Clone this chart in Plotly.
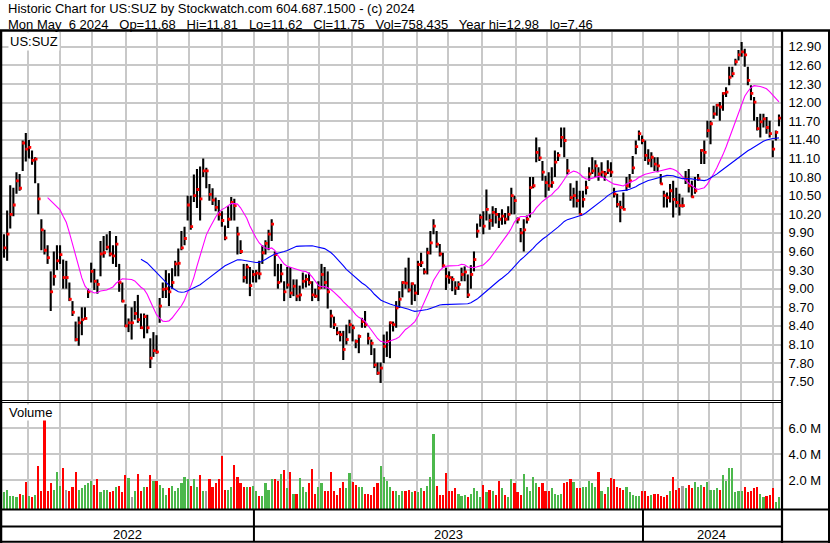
import plotly.graph_objects as go
import pandas as pd

# ---------------- data (2-trading-day bars, May 2022 - May 2024) ----------------
close = [9.66, 9.88, 10.20, 10.35, 10.74, 10.62, 11.35, 11.25, 11.28, 11.07,
         11.09, 10.45, 9.95, 9.62, 9.50, 8.95, 9.20, 9.45, 9.55, 9.18,
         9.18, 8.83, 8.62, 8.18, 8.45, 8.50, 8.52, 8.95, 9.28, 9.12,
         9.07, 9.56, 9.58, 9.67, 9.56, 9.53, 9.72, 9.10, 8.80, 8.40,
         8.45, 8.45, 8.60, 8.50, 8.37, 8.55, 8.37, 7.88, 8.00, 7.98,
         8.72, 8.99, 9.00, 8.95, 9.10, 9.40, 9.41, 9.66, 9.81, 10.35,
         10.00, 10.50, 10.60, 10.45, 10.90, 10.90, 10.52, 10.43, 10.31, 10.20,
         10.10, 9.82, 10.12, 10.39, 10.34, 9.88, 9.60, 9.18, 9.35, 9.05,
         9.23, 9.25, 9.24, 9.58, 9.73, 9.88, 10.04, 9.55, 9.10, 9.24,
         8.95, 9.06, 8.93, 9.04, 8.88, 8.90, 9.12, 9.15, 9.10, 8.90,
         8.88, 9.01, 9.23, 9.10, 8.95, 8.56, 8.42, 8.29, 8.26, 8.02,
         8.18, 8.42, 8.37, 8.15, 8.23, 8.47, 8.42, 8.20, 8.12, 7.77,
         7.64, 7.72, 8.07, 8.15, 8.45, 8.42, 8.69, 8.83, 9.10, 9.09,
         8.98, 9.08, 8.93, 9.39, 9.42, 9.27, 9.58, 9.74, 10.01, 9.72,
         9.56, 9.37, 9.20, 9.18, 9.15, 9.01, 9.07, 9.23, 9.27, 8.90,
         9.23, 9.47, 9.93, 10.15, 10.01, 10.28, 10.10, 10.23, 10.20, 10.12,
         10.17, 10.12, 10.20, 10.50, 10.42, 10.12, 9.90, 9.95, 10.12, 10.63,
         10.66, 11.20, 11.11, 10.88, 10.71, 10.66, 10.71, 11.04, 11.15, 11.44,
         11.39, 10.90, 10.47, 10.50, 10.42, 10.20, 10.44, 10.63, 10.85, 10.90,
         10.98, 10.85, 10.88, 10.85, 10.91, 10.88, 10.53, 10.36, 10.31, 10.28,
         10.66, 10.74, 10.95, 11.29, 11.50, 11.39, 11.15, 11.07, 11.12, 11.01,
         10.98, 10.69, 10.50, 10.47, 10.58, 10.44, 10.39, 10.34, 10.34, 10.77,
         10.66, 10.48, 10.58, 10.77, 11.23, 11.20, 11.55, 11.66, 11.82, 11.96,
         11.93, 12.15, 12.17, 12.41, 12.47, 12.66, 12.77, 12.82, 12.77, 12.36,
         12.15, 12.01, 11.58, 11.69, 11.74, 11.60, 11.50, 11.25, 11.52, 11.75]

high = [9.88, 10.26, 10.67, 10.63, 10.88, 10.85, 11.39, 11.51, 11.40, 11.23,
        11.12, 10.70, 10.12, 9.95, 9.70, 9.28, 9.60, 9.70, 9.70, 9.47,
        9.45, 9.10, 8.80, 8.47, 8.55, 8.70, 8.70, 9.00, 9.42, 9.32,
        9.15, 9.77, 9.85, 9.88, 9.93, 9.70, 9.85, 9.40, 9.10, 8.75,
        8.52, 8.70, 8.80, 8.90, 8.60, 8.60, 8.58, 8.20, 8.30, 8.25,
        8.85, 9.10, 9.30, 9.25, 9.33, 9.45, 9.65, 9.93, 10.00, 10.50,
        10.50, 10.84, 10.93, 10.97, 11.10, 10.95, 10.69, 10.62, 10.47, 10.43,
        10.25, 10.02, 10.33, 10.48, 10.45, 10.00, 9.78, 9.40, 9.40, 9.35,
        9.30, 9.30, 9.45, 9.70, 9.78, 9.95, 10.12, 9.60, 9.40, 9.40,
        9.12, 9.35, 9.35, 9.15, 9.15, 9.05, 9.26, 9.23, 9.26, 9.12,
        9.00, 9.12, 9.40, 9.35, 9.28, 8.66, 8.55, 8.38, 8.32, 8.32,
        8.42, 8.50, 8.42, 8.18, 8.26, 8.53, 8.64, 8.29, 8.18, 8.04,
        7.81, 7.81, 8.26, 8.31, 8.47, 8.47, 8.80, 8.96, 9.12, 9.34,
        9.50, 9.10, 9.07, 9.45, 9.58, 9.33, 9.66, 9.93, 10.12, 9.93,
        9.72, 9.58, 9.34, 9.28, 9.20, 9.12, 9.12, 9.34, 9.36, 9.23,
        9.38, 9.60, 10.05, 10.20, 10.25, 10.60, 10.20, 10.33, 10.30, 10.22,
        10.28, 10.22, 10.33, 10.63, 10.50, 10.15, 9.98, 10.12, 10.18, 10.80,
        10.80, 11.44, 11.28, 11.06, 10.82, 10.88, 10.96, 11.23, 11.20, 11.60,
        11.60, 11.09, 10.70, 10.63, 10.74, 10.58, 10.58, 10.74, 10.96, 11.12,
        11.07, 10.96, 11.04, 10.90, 11.07, 11.04, 10.63, 10.53, 10.42, 10.55,
        10.80, 10.85, 11.14, 11.39, 11.55, 11.47, 11.39, 11.25, 11.20, 11.12,
        11.12, 10.85, 10.58, 10.55, 10.69, 10.74, 10.63, 10.53, 10.47, 10.90,
        10.93, 10.74, 10.80, 10.85, 11.25, 11.39, 11.71, 11.71, 11.95, 11.98,
        12.01, 12.17, 12.25, 12.58, 12.58, 12.71, 12.85, 12.98, 12.87, 12.58,
        12.28, 12.09, 11.77, 11.82, 11.82, 11.77, 11.71, 11.39, 11.55, 11.81]

low = [9.50, 9.45, 9.97, 10.17, 10.53, 10.58, 10.90, 11.05, 11.10, 11.00,
       10.70, 10.20, 9.62, 9.55, 9.40, 8.64, 9.05, 9.30, 9.40, 9.00,
       9.00, 8.80, 8.56, 8.15, 8.08, 8.25, 8.50, 8.85, 9.10, 8.98,
       8.92, 9.20, 9.50, 9.62, 9.52, 9.40, 9.35, 8.95, 8.78, 8.38,
       8.30, 8.18, 8.50, 8.45, 8.35, 8.20, 8.28, 7.72, 7.90, 7.95,
       8.45, 8.85, 8.85, 8.72, 9.00, 9.20, 9.20, 9.62, 9.70, 10.10,
       9.95, 10.40, 10.30, 10.10, 10.80, 10.62, 10.42, 10.35, 10.25, 10.10,
       10.00, 9.78, 9.98, 10.10, 10.10, 9.55, 9.56, 9.10, 9.08, 8.88,
       9.10, 9.10, 9.15, 9.40, 9.55, 9.62, 9.77, 9.20, 9.00, 9.10,
       8.80, 9.00, 8.85, 8.88, 8.80, 8.80, 9.00, 9.02, 9.05, 8.80,
       8.85, 8.80, 9.00, 9.00, 8.68, 8.37, 8.35, 8.25, 8.15, 7.85,
       8.10, 8.28, 8.15, 8.04, 7.96, 8.37, 8.37, 8.10, 7.93, 7.72,
       7.61, 7.48, 7.80, 7.90, 7.88, 8.31, 8.37, 8.69, 8.86, 9.00,
       8.94, 8.74, 8.80, 8.90, 9.35, 9.23, 9.23, 9.55, 9.88, 9.66,
       9.52, 9.34, 8.98, 9.08, 8.96, 8.90, 8.98, 9.12, 9.12, 8.85,
       9.00, 9.28, 9.82, 10.00, 9.88, 10.10, 9.95, 10.00, 10.05, 9.98,
       10.03, 10.04, 10.10, 10.20, 10.20, 10.05, 9.75, 9.60, 10.05, 10.15,
       10.62, 11.04, 11.06, 10.74, 10.47, 10.58, 10.63, 10.80, 11.06, 11.28,
       11.12, 10.84, 10.42, 10.31, 10.31, 10.20, 10.31, 10.52, 10.74, 10.85,
       10.80, 10.74, 10.80, 10.74, 10.85, 10.80, 10.47, 10.31, 10.07, 10.28,
       10.58, 10.63, 10.85, 11.17, 11.39, 11.33, 11.06, 11.00, 10.96, 10.90,
       10.88, 10.69, 10.31, 10.31, 10.39, 10.15, 10.31, 10.18, 10.31, 10.69,
       10.55, 10.47, 10.53, 10.74, 11.01, 11.01, 11.44, 11.33, 11.74, 11.79,
       11.71, 11.87, 12.09, 12.28, 12.41, 12.60, 12.68, 12.74, 12.58, 12.28,
       12.04, 11.71, 11.55, 11.44, 11.60, 11.50, 11.44, 11.12, 11.39, 11.62]

volume_m = [1.1, 1.3, 0.8, 0.8, 0.7, 1.0, 0.9, 1.9, 0.8, 0.7,
            0.9, 3.1, 1.2, 7.1, 1.2, 1.8, 1.3, 2.7, 1.6, 3.0,
            1.3, 1.2, 1.5, 2.7, 1.3, 1.4, 1.7, 1.8, 2.0, 1.7,
            2.1, 1.1, 1.3, 1.3, 1.1, 1.2, 1.5, 1.6, 1.1, 2.4,
            2.2, 0.7, 1.2, 2.5, 1.2, 1.5, 1.5, 2.4, 2.0, 2.0,
            1.7, 1.4, 0.9, 1.4, 1.6, 1.2, 1.4, 1.8, 2.3, 2.1,
            1.6, 2.1, 1.5, 2.4, 1.2, 1.2, 2.1, 1.5, 1.8, 2.1,
            3.9, 1.3, 1.3, 1.5, 3.2, 2.3, 1.8, 1.5, 1.5, 1.5,
            1.6, 1.2, 0.8, 0.8, 1.8, 1.3, 2.1, 2.1, 2.0, 2.5,
            2.8, 1.4, 2.7, 1.0, 1.0, 2.2, 1.5, 1.1, 1.8, 2.9,
            1.0, 1.5, 1.8, 1.2, 1.2, 2.7, 1.2, 0.9, 1.4, 1.9,
            1.4, 2.6, 1.9, 1.7, 1.5, 1.5, 1.0, 1.0, 0.9, 1.5,
            1.8, 3.1, 2.3, 2.0, 1.5, 1.2, 1.2, 0.9, 1.2, 1.2,
            1.3, 1.1, 1.2, 1.1, 1.4, 1.2, 1.6, 2.3, 5.6, 1.6,
            0.9, 0.9, 2.6, 1.2, 1.2, 1.4, 1.0, 0.8, 0.9, 0.7,
            1.0, 1.4, 1.2, 0.7, 1.7, 1.1, 1.3, 1.2, 0.9, 2.0,
            1.4, 0.9, 0.7, 2.1, 1.8, 1.1, 0.9, 2.5, 1.5, 1.2,
            2.3, 1.8, 1.5, 1.8, 1.2, 1.2, 1.4, 1.0, 0.9, 1.0,
            1.8, 1.9, 2.1, 1.9, 1.4, 1.4, 1.5, 1.5, 2.0, 1.8,
            1.5, 2.7, 1.2, 1.0, 1.5, 2.2, 2.1, 1.5, 1.4, 1.3,
            1.5, 1.1, 0.9, 0.8, 0.8, 1.2, 1.2, 0.8, 0.9, 1.0,
            1.0, 0.8, 0.7, 0.9, 1.2, 2.3, 1.3, 1.4, 1.6, 1.4,
            1.7, 1.4, 1.9, 1.5, 1.7, 1.5, 1.9, 1.3, 1.3, 1.4,
            1.3, 2.4, 2.0, 3.0, 3.0, 1.1, 1.2, 1.2, 1.5, 1.1,
            1.2, 1.4, 1.5, 1.0, 0.7, 0.8, 0.9, 1.4, 0.35, 0.76]

# month-start positions (trading-day index) used for the vertical grid
month_starts = [16.2, 37.0, 57.3, 79.4, 99.3, 119.9, 141.1, 161.6, 183.5, 203.4,
                224.6, 244.5, 266.2, 286.3, 308.0, 330.0, 349.8, 371.2, 391.6,
                411.6, 434.1, 454.0, 474.6, 495.2]
year_labels = ["2022", "2023", "2024"]
year_edges = [-0.3, 161.6, 411.6, 500.3]

price_ticks = [7.50, 7.80, 8.10, 8.40, 8.70, 9.00, 9.30, 9.60, 9.90, 10.20,
               10.50, 10.80, 11.10, 11.40, 11.70, 12.00, 12.30, 12.60, 12.90]
vol_ticks = [2.0, 4.0, 6.0]

SP3 = "\u00a0\u00a0 "
header1 = "Historic Chart for US:SUZ by Stockwatch.com 604.687.1500 - (c) 2024"
header2 = ("Mon May\u00a0 6 2024" + SP3 + "Op=11.68" + SP3 + "Hi=11.81" + SP3 +
           "Lo=11.62" + SP3 + "Cl=11.75" + SP3 + "Vol=758,435" + SP3 +
           "Year hi=12.98" + SP3 + "lo=7.46")

# ---------------- derived ----------------
W, H = 830, 543
t = [2 * i + 1 for i in range(len(close))]
s = pd.Series(close)
ma_fast = s.rolling(15).mean()
ma_slow = s.rolling(45).mean()

vcol = []
for i, c in enumerate(close):
    if i == 0 or c > close[i - 1]:
        vcol.append("#4cb84c")
    elif c < close[i - 1]:
        vcol.append("#ff0000")
    else:
        vcol.append("#a0a0a0")

bx, by = [], []
for ti, h, l in zip(t, high, low):
    bx += [ti, ti, None]
    by += [l, h, None]

def fx(px):
    return px / W

def fy(py):
    return 1 - py / H

VMIN = -0.27
FONT = "Arial, Liberation Sans, Helvetica, sans-serif"

fig = go.Figure()
fig.add_trace(go.Scatter(x=bx, y=by, mode="lines", line=dict(color="black", width=2.1),
                         hoverinfo="skip", xaxis="x", yaxis="y"))
fig.add_trace(go.Scatter(x=[v + 0.6 for v in t], y=close, mode="markers",
                         marker=dict(symbol="square", size=2.8, color="#ff0000", line=dict(width=0)),
                         xaxis="x", yaxis="y"))
fig.add_trace(go.Scatter(x=t, y=ma_fast, mode="lines", line=dict(color="#ff00ff", width=1.1),
                         xaxis="x", yaxis="y"))
fig.add_trace(go.Scatter(x=t, y=ma_slow, mode="lines", line=dict(color="#0000ff", width=1.1),
                         xaxis="x", yaxis="y"))
fig.add_trace(go.Bar(x=t, y=[v - VMIN for v in volume_m], base=VMIN, width=1.4,
                     marker=dict(color=vcol, line=dict(width=0)), xaxis="x2", yaxis="y2"))

xdom = [fx(2), fx(781)]
xr = [-0.3, 500.3]
grid = dict(showgrid=True, gridcolor="#c8c8c8", gridwidth=1.6)
fig.update_layout(
    width=W, height=H, margin=dict(l=0, r=0, t=0, b=0),
    paper_bgcolor="white", plot_bgcolor="white", showlegend=False, bargap=0,
    font=dict(family=FONT, size=13, color="black"),
    xaxis=dict(domain=xdom, range=xr, tickvals=month_starts, showticklabels=False, ticks="",
               zeroline=False, anchor="y", **grid),
    xaxis2=dict(domain=xdom, range=xr, tickvals=month_starts, showticklabels=False, ticks="",
                zeroline=False, anchor="y2", matches="x", **grid),
    yaxis=dict(domain=[fy(400), fy(31.5)], range=[7.205, 13.148], side="right",
               tickvals=price_ticks, ticktext=[f"{v:.2f}" for v in price_ticks],
               ticks="outside", ticklen=4, tickcolor="rgba(0,0,0,0)", zeroline=False,
               tickfont=dict(family=FONT, size=13, color="black"), anchor="x", **grid),
    yaxis2=dict(domain=[fy(509.5), fy(402.5)], range=[VMIN, 8.0], side="right",
                tickvals=vol_ticks, ticktext=[f"{v:.1f} M" for v in vol_ticks],
                ticks="outside", ticklen=4, tickcolor="rgba(0,0,0,0)", zeroline=False,
                tickfont=dict(family=FONT, size=13, color="black"), anchor="x2", **grid),
)

shapes = []
def hline(py, x0=0, x1=W, w=2):
    shapes.append(dict(type="line", xref="paper", yref="paper", x0=fx(x0), x1=fx(x1),
                       y0=fy(py), y1=fy(py), line=dict(color="black", width=w)))
def vline(px, y0, y1, w=2):
    shapes.append(dict(type="line", xref="paper", yref="paper", x0=fx(px), x1=fx(px),
                       y0=fy(y0), y1=fy(y1), line=dict(color="black", width=w)))

hline(30.5, w=2.5)
hline(400.5, 0, 782, w=1)
hline(402.5, 0, 782, w=1)
hline(509.5, w=2)
hline(526.5, 0, 782, w=2)
hline(541.8, w=2)
vline(1, 30, 543, w=2.5)
vline(782, 30, 543, w=2.2)
vline(829, 30, 543, w=2)
for edge in year_edges[1:-1]:
    shapes.append(dict(type="line", xref="x", yref="paper", x0=edge, x1=edge,
                       y0=fy(541), y1=fy(509.5), line=dict(color="black", width=2)))
fig.update_layout(shapes=shapes)

ann = [
    dict(text=header1, x=fx(6), y=fy(9), xanchor="left", yanchor="middle"),
    dict(text=header2, x=fx(6), y=fy(24), xanchor="left", yanchor="middle"),
    dict(text="US:SUZ", x=fx(8), y=fy(41), xanchor="left", yanchor="middle",
         bgcolor="white", borderpad=1),
    dict(text="Volume", x=fx(8), y=fy(413), xanchor="left", yanchor="middle",
         bgcolor="white", borderpad=0),
]
for k, lab in enumerate(year_labels):
    ann.append(dict(text=lab, x=(year_edges[k] + year_edges[k + 1]) / 2, xref="x",
                    y=fy(534), yref="paper", xanchor="center", yanchor="middle",
                    showarrow=False, font=dict(family=FONT, size=13, color="black")))
for a in ann:
    a.setdefault("xref", "paper")
    a.setdefault("yref", "paper")
    a.setdefault("showarrow", False)
    a.setdefault("font", dict(family=FONT, size=13, color="black"))
fig.update_layout(annotations=ann)

fig.write_html("out.html", config={"displayModeBar": False},
               post_script="document.body.style.margin='0';document.body.style.overflow='hidden';")
